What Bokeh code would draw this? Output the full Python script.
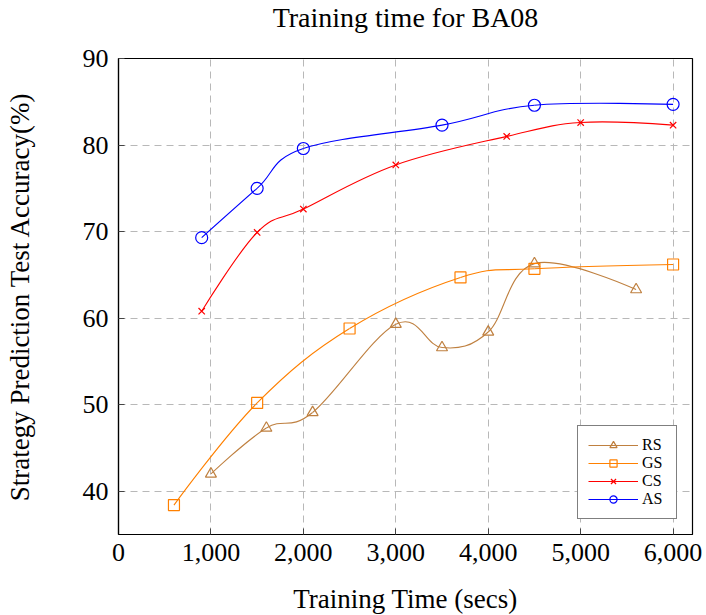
from bokeh.plotting import figure
from bokeh.models import (Range1d, NumeralTickFormatter, Legend, LegendItem,
                          FixedTicker, ColumnDataSource)
from bokeh.embed import file_html
from bokeh.resources import INLINE

# ---- data ----
RS_x = [1000, 1600, 2100, 3000, 3500, 4000, 4500, 5600]
RS_y = [42.0, 47.3, 49.1, 59.3, 56.6, 58.4, 66.3, 63.3]
GS_x = [600, 1500, 2500, 3700, 4500, 6000]
GS_y = [38.4, 50.2, 58.8, 64.7, 65.7, 66.2]
CS_x = [900, 1500, 2000, 3000, 4200, 5000, 6000]
CS_y = [60.8, 69.9, 72.6, 77.7, 81.0, 82.6, 82.3]
AS_x = [900, 1500, 2000, 3500, 4500, 6000]
AS_y = [69.3, 75.0, 79.6, 82.3, 84.6, 84.7]

x_ticks = [0, 1000, 2000, 3000, 4000, 5000, 6000]
y_ticks = [40, 50, 60, 70, 80, 90]
title_text = "Training time for BA08"

FONT = "Liberation Serif"
FW, FH = 574, 476

p = figure(frame_width=FW, frame_height=FH, output_backend="svg", toolbar_location=None,
           x_range=Range1d(0, 6210), y_range=Range1d(35, 90), title=title_text + "\n ",
           min_border_left=118, min_border_right=10, min_border_top=56, min_border_bottom=83)
p.background_fill_color = "white"
p.border_fill_color = "white"
p.outline_line_color = "black"
p.outline_line_width = 1.2

p.title.align = "center"
p.title.text_font = FONT
p.title.text_font_size = "28px"
p.title.text_font_style = "normal"
p.title.text_color = "black"
p.title.standoff = 0
p.title.text_line_height = 0.82

xt = FixedTicker(ticks=x_ticks)
yt = FixedTicker(ticks=y_ticks)


def style_axis(ax):
    ax.axis_line_color = "black"
    ax.axis_line_width = 1.2
    ax.major_tick_in = 6
    ax.major_tick_out = 0
    ax.minor_tick_in = 0
    ax.minor_tick_out = 0
    ax.major_tick_line_color = "#444444"
    ax.major_label_text_font = FONT
    ax.major_label_text_font_size = "26px"
    ax.major_label_text_color = "black"
    ax.axis_label_text_font = FONT
    ax.axis_label_text_font_size = "27px"
    ax.axis_label_text_font_style = "normal"
    ax.axis_label_text_color = "black"


xa = p.xaxis[0]
ya = p.yaxis[0]
xa.ticker = xt
ya.ticker = yt
xa.formatter = NumeralTickFormatter(format="0,0")
xa.axis_label = "Training Time (secs)"
ya.axis_label = "Strategy Prediction Test Accuracy(%)"
style_axis(xa)
style_axis(ya)
xa.major_label_standoff = 9
ya.major_label_standoff = 10
xa.axis_label_standoff = 20
ya.axis_label_standoff = 45

for g in (p.xgrid[0], p.ygrid[0]):
    g.grid_line_color = "#b8b8b8"
    g.grid_line_dash = "7 5"
    g.grid_line_width = 1
p.xgrid[0].ticker = xt
p.ygrid[0].ticker = yt

T = 0.55 / 3.0


def bez_source(xs, ys):
    n = len(xs)
    d = dict(x0=[], y0=[], x1=[], y1=[], cx0=[], cy0=[], cx1=[], cy1=[])
    for i in range(n - 1):
        xa_, ya_ = xs[i], ys[i]
        xb, yb = xs[i + 1], ys[i + 1]
        if i == 0:
            c0x, c0y = xa_, ya_
        else:
            c0x = xa_ + T * (xb - xs[i - 1])
            c0y = ya_ + T * (yb - ys[i - 1])
        if i + 2 >= n:
            c1x, c1y = xb, yb
        else:
            c1x = xb - T * (xs[i + 2] - xa_)
            c1y = yb - T * (ys[i + 2] - ya_)
        d["x0"].append(xa_); d["y0"].append(ya_)
        d["x1"].append(xb); d["y1"].append(yb)
        d["cx0"].append(c0x); d["cy0"].append(c0y)
        d["cx1"].append(c1x); d["cy1"].append(c1y)
    return ColumnDataSource(d)


series = [
    ("RS", RS_x, RS_y, "#bf8040", "triangle", 11),
    ("GS", GS_x, GS_y, "#ff8000", "square", 11),
    ("CS", CS_x, CS_y, "#ff0000", "x", 9),
    ("AS", AS_x, AS_y, "#0000ff", "circle", 12),
]

items = []
for name, xs, ys, col, mk, sz in series:
    br = p.bezier(x0="x0", y0="y0", x1="x1", y1="y1", cx0="cx0", cy0="cy0",
                  cx1="cx1", cy1="cy1", source=bez_source(xs, ys),
                  line_color=col, line_width=1.1)
    sr = p.scatter(x=xs, y=ys, marker=mk, size=sz, fill_color=None,
                   line_color=col, line_width=1.2)
    items.append(LegendItem(label=name, renderers=[br, sr]))

legend = Legend(items=items, location=(459, 15))
legend.border_line_color = "black"
legend.border_line_width = 1.2
legend.background_fill_color = "white"
legend.background_fill_alpha = 1
legend.padding = 10
legend.spacing = 0
legend.margin = 0
legend.glyph_width = 50
legend.glyph_height = 18
legend.label_height = 18
legend.label_width = 24
legend.label_standoff = 4
legend.label_text_font = FONT
legend.label_text_font_size = "16px"
legend.label_text_color = "black"
p.add_layout(legend, "center")

open("out.html", "w").write(file_html(p, INLINE))
